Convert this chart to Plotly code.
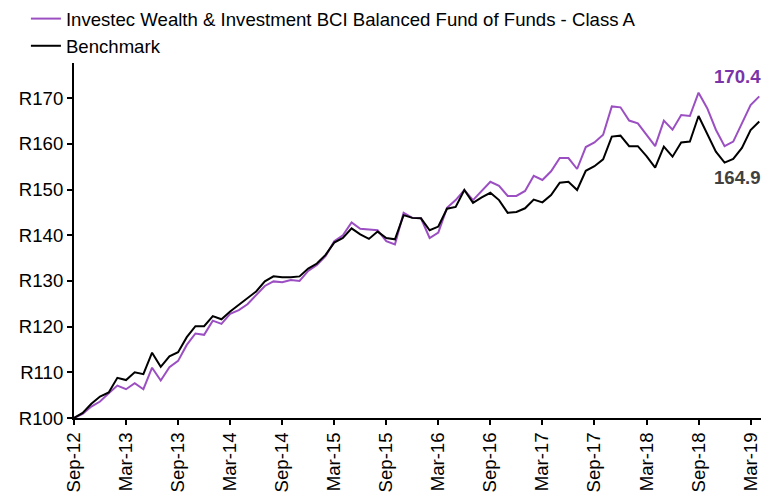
import plotly.graph_objects as go

months = ["Sep-12","Oct-12","Nov-12","Dec-12","Jan-13","Feb-13","Mar-13","Apr-13","May-13","Jun-13","Jul-13","Aug-13",
          "Sep-13","Oct-13","Nov-13","Dec-13","Jan-14","Feb-14","Mar-14","Apr-14","May-14","Jun-14","Jul-14","Aug-14",
          "Sep-14","Oct-14","Nov-14","Dec-14","Jan-15","Feb-15","Mar-15","Apr-15","May-15","Jun-15","Jul-15","Aug-15",
          "Sep-15","Oct-15","Nov-15","Dec-15","Jan-16","Feb-16","Mar-16","Apr-16","May-16","Jun-16","Jul-16","Aug-16",
          "Sep-16","Oct-16","Nov-16","Dec-16","Jan-17","Feb-17","Mar-17","Apr-17","May-17","Jun-17","Jul-17","Aug-17",
          "Sep-17","Oct-17","Nov-17","Dec-17","Jan-18","Feb-18","Mar-18","Apr-18","May-18","Jun-18","Jul-18","Aug-18",
          "Sep-18","Oct-18","Nov-18","Dec-18","Jan-19","Feb-19","Mar-19","Apr-19"]

fund = [100.0,100.9,102.5,103.6,105.4,107.1,106.3,107.6,106.3,111.0,108.2,111.1,
        112.5,116.0,118.5,118.2,121.3,120.6,122.8,123.6,124.9,126.9,128.9,129.9,
        129.7,130.2,130.0,132.2,133.5,135.4,138.7,140.0,142.8,141.4,141.3,141.1,
        138.7,138.0,144.9,143.8,143.7,139.4,140.6,146.0,147.7,149.9,147.7,149.7,
        151.7,150.8,148.6,148.6,149.7,153.0,152.1,154.0,156.9,156.9,154.5,159.3,
        160.3,162.0,168.2,168.0,165.1,164.5,162.0,159.5,165.1,163.1,166.3,166.1,
        171.2,167.8,163.1,159.5,160.5,164.5,168.5,170.4]

bench = [100.0,101.1,103.1,104.7,105.6,108.8,108.3,110.0,109.6,114.3,111.2,113.5,
         114.4,117.7,120.1,120.1,122.3,121.6,123.3,124.7,126.2,127.7,129.9,131.0,
         130.8,130.8,131.0,132.7,133.8,135.7,138.4,139.4,141.5,140.2,139.2,140.8,
         139.4,139.1,144.4,143.8,143.7,141.1,141.9,145.8,146.2,149.9,147.1,148.3,
         149.3,147.7,144.9,145.1,145.9,147.8,147.2,148.8,151.5,151.7,149.9,154.1,
         155.1,156.6,161.6,161.8,159.5,159.5,157.3,154.8,159.4,157.2,160.3,160.5,
         166.1,162.1,158.3,155.9,156.7,159.1,163.0,164.9]

y_ticks = [100, 110, 120, 130, 140, 150, 160, 170]
y_tick_labels = ["R100", "R110", "R120", "R130", "R140", "R150", "R160", "R170"]
x_tick_labels = ["Sep-12","Mar-13","Sep-13","Mar-14","Sep-14","Mar-15","Sep-15",
                 "Mar-16","Sep-16","Mar-17","Sep-17","Mar-18","Sep-18","Mar-19"]

x_idx = list(range(len(months)))
x_tick_vals = [months.index(m) for m in x_tick_labels]

PURPLE = "#9B4FC2"
FONT = "Liberation Sans, Arial, sans-serif"
FS = 18.6

fig = go.Figure()
fig.add_trace(go.Scatter(x=x_idx, y=fund, mode="lines",
                         name="Investec Wealth & Investment BCI Balanced Fund of Funds - Class A",
                         line=dict(color=PURPLE, width=2)))
fig.add_trace(go.Scatter(x=x_idx, y=bench, mode="lines", name="Benchmark",
                         line=dict(color="#000000", width=2)))

fig.add_annotation(x=x_idx[-1], y=fund[-1], text="<b>%.1f</b>" % fund[-1], showarrow=False,
                   xanchor="right", yanchor="middle", xshift=4, yshift=20,
                   font=dict(color="#7A33A8", size=FS, family=FONT))
fig.add_annotation(x=x_idx[-1], y=bench[-1], text="<b>%.1f</b>" % bench[-1], showarrow=False,
                   xanchor="right", yanchor="middle", xshift=4, yshift=-56,
                   font=dict(color="#404040", size=FS, family=FONT))

fig.update_layout(
    width=767, height=501,
    margin=dict(l=74, r=6, t=63, b=83, autoexpand=False),
    paper_bgcolor="white", plot_bgcolor="white",
    font=dict(family=FONT, size=FS, color="#000000"),
    showlegend=True,
    legend=dict(x=-0.07, y=1.0, xanchor="left", yanchor="top", yref="container",
                bgcolor="rgba(0,0,0,0)", font=dict(size=FS), tracegroupgap=0),
    xaxis=dict(range=[0, 79.2], tickmode="array", tickvals=x_tick_vals, ticktext=x_tick_labels,
               tickangle=-90, showgrid=False, zeroline=False, showline=True, linecolor="black",
               linewidth=2, ticks="outside", ticklen=5, tickwidth=2, tickcolor="black",
               tickfont=dict(size=FS), automargin=False),
    yaxis=dict(range=[100, 177.7], tickmode="array", tickvals=y_ticks, ticktext=y_tick_labels,
               showgrid=False, zeroline=False, showline=True, linecolor="black", linewidth=2,
               ticks="outside", ticklen=5, tickwidth=2, tickcolor="black",
               tickfont=dict(size=FS), automargin=False),
)

fig.write_html("out.html", config={"displayModeBar": False},
               post_script="document.body.style.margin='0';document.body.style.padding='0';")
